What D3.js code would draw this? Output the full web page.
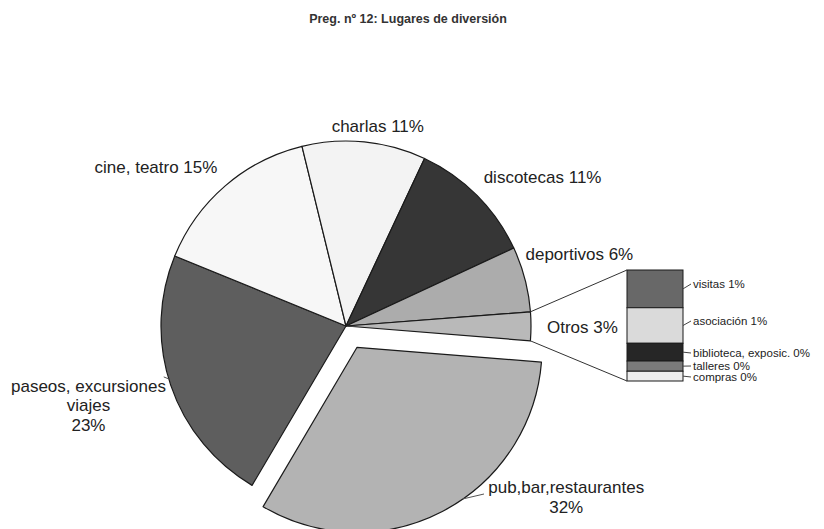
<!DOCTYPE html>
<html><head><meta charset="utf-8">
<script src="https://cdn.jsdelivr.net/npm/d3@7"></script>
<style>body{margin:0;background:#fff}svg{display:block}text{font-family:"Liberation Sans",Arial,sans-serif;fill:#222}</style>
</head><body>
<svg id="c" width="824" height="529"></svg>
<script>
const title = "Preg. nº 12: Lugares de diversión";
const categories = ["pub,bar,restaurantes","paseos, excursiones viajes","cine, teatro","charlas","discotecas","deportivos","Otros"];
const values = [32.2, 22.7, 15.0, 10.8, 11.1, 5.7, null];
const sliceColors = ["#b3b3b3","#5e5e5e","#f7f7f7","#f3f3f3","#363636","#acacac","#b9b9b9"];
const subCategories = ["visitas","asociación","biblioteca, exposic.","talleres","compras"];
const subValues = [0.85, 0.80, 0.40, 0.23, 0.22];
const subColors = ["#686868","#dadada","#262626","#7a7a7a","#ececec"];

const otrosTotal = d3.sum(subValues);
const vals = values.map(v => v === null ? otrosTotal : v);
const data = categories.map((c,i)=>({name:c, value:vals[i], color:sliceColors[i]}));

const svg = d3.select("#c");
svg.append("text").attr("x",408).attr("y",23).attr("text-anchor","middle")
  .style("font-size","12.5px").style("font-weight","bold").style("fill","#333").text(title);

const cx = 346, cy = 326, R = 185;
const deg = Math.PI/180;
const pie = d3.pie().value(d=>d.value).sort(null)
  .startAngle(94.6*deg).endAngle(94.6*deg + 2*Math.PI);
const arcs = pie(data);
const arc = d3.arc().innerRadius(0).outerRadius(R);
const g = svg.append("g").attr("transform",`translate(${cx},${cy})`);
const explode = [24,0,0,0,0,0,0];
const polar = (a, r) => [Math.sin(a)*r, -Math.cos(a)*r];

g.selectAll("path.slice").data(arcs).enter().append("path")
  .attr("class","slice")
  .attr("transform",(d,i)=>{const m=(d.startAngle+d.endAngle)/2; const p=polar(m,explode[i]); return `translate(${p[0]},${p[1]})`;})
  .attr("d",arc).attr("fill",d=>d.data.color)
  .attr("stroke","#1a1a1a").attr("stroke-width",1.2).attr("stroke-linejoin","round");

const pct = v => Math.round(v) + "%";
const fs = "17px";
function label(lines, anchor, x, y, lh){
  const t = svg.append("text").attr("text-anchor",anchor).style("font-size",fs);
  lines.forEach((l,k)=>t.append("tspan").attr("x",x).attr("y",y+k*lh).text(l));
}
function mid(i){return (arcs[i].startAngle+arcs[i].endAngle)/2;}
function pt(i, r){const p=polar(mid(i), r); return [cx+p[0], cy+p[1]];}
let p;
p = pt(3, 200); label([categories[3]+" "+pct(vals[3])],"middle",p[0]+12,p[1]+5,0);
p = pt(4, 200); label([categories[4]+" "+pct(vals[4])],"start",p[0]-4,p[1]-2,0);
p = pt(5, 200); label([categories[5]+" "+pct(vals[5])],"start",p[0]-14,p[1]-15,0);
p = pt(6, 200); label([categories[6]+" "+pct(vals[6])],"start",p[0]+1,p[1]+7,0);
p = pt(2, 200); label([categories[2]+" "+pct(vals[2])],"end",p[0]+2,p[1]-2,0);
p = pt(1, 200); label(["paseos, excursiones","viajes",pct(vals[1])],"middle",p[0]-68,p[1]+2,19.5);
p = pt(0, 200+explode[0]); label(["pub,bar,restaurantes",pct(vals[0])],"middle",p[0]+117,p[1]-32,20);

// leader for pub label
{
  const off = polar(mid(0), explode[0]);
  const a = arcs[0].startAngle + (arcs[0].endAngle-arcs[0].startAngle)*0.435;
  const e = polar(a, R);
  svg.append("line").attr("x1",cx+off[0]+e[0]).attr("y1",cy+off[1]+e[1]).attr("x2",484).attr("y2",494)
    .attr("stroke","#555").attr("stroke-width",1);
}
// leader for paseos label
{
  const e = polar(mid(1)+2*deg, R);
  svg.append("line").attr("x1",cx+e[0]).attr("y1",cy+e[1]).attr("x2",cx+e[0]-5).attr("y2",cy+e[1]-2)
    .attr("stroke","#555").attr("stroke-width",1);
}

// stacked bar of "Otros"
const bx = 627, bw = 56;
const y = d3.scaleLinear().domain([0, otrosTotal]).range([270, 381]);
let acc = 0;
const segs = subValues.map((v,i)=>{const s={name:subCategories[i],value:v,color:subColors[i],y0:acc,y1:acc+v}; acc+=v; return s;});
svg.selectAll("rect.seg").data(segs).enter().append("rect").attr("class","seg")
  .attr("x",bx).attr("width",bw).attr("y",d=>y(d.y0)).attr("height",d=>y(d.y1)-y(d.y0))
  .attr("fill",d=>d.color).attr("stroke","#1a1a1a").attr("stroke-width",1);

// connectors from Otros slice to bar
{
  const s = polar(arcs[6].startAngle, R), e = polar(arcs[6].endAngle, R);
  svg.append("line").attr("x1",cx+s[0]).attr("y1",cy+s[1]).attr("x2",bx).attr("y2",y(0)).attr("stroke","#333").attr("stroke-width",1);
  svg.append("line").attr("x1",cx+e[0]).attr("y1",cy+e[1]).attr("x2",bx).attr("y2",y(otrosTotal)).attr("stroke","#333").attr("stroke-width",1);
}
// sub labels
const labelY = [284, 321, 353, 366, 377];
segs.forEach((d,i)=>{
  const c = (y(d.y0)+y(d.y1))/2;
  svg.append("line").attr("x1",bx+bw).attr("y1",c).attr("x2",bx+bw+8).attr("y2",labelY[i])
    .attr("stroke","#444").attr("stroke-width",1);
  svg.append("text").attr("x",bx+bw+10).attr("y",labelY[i]).attr("dy","0.35em")
    .style("font-size","11.5px").text(d.name+" "+pct(d.value));
});
</script>
</body></html>
